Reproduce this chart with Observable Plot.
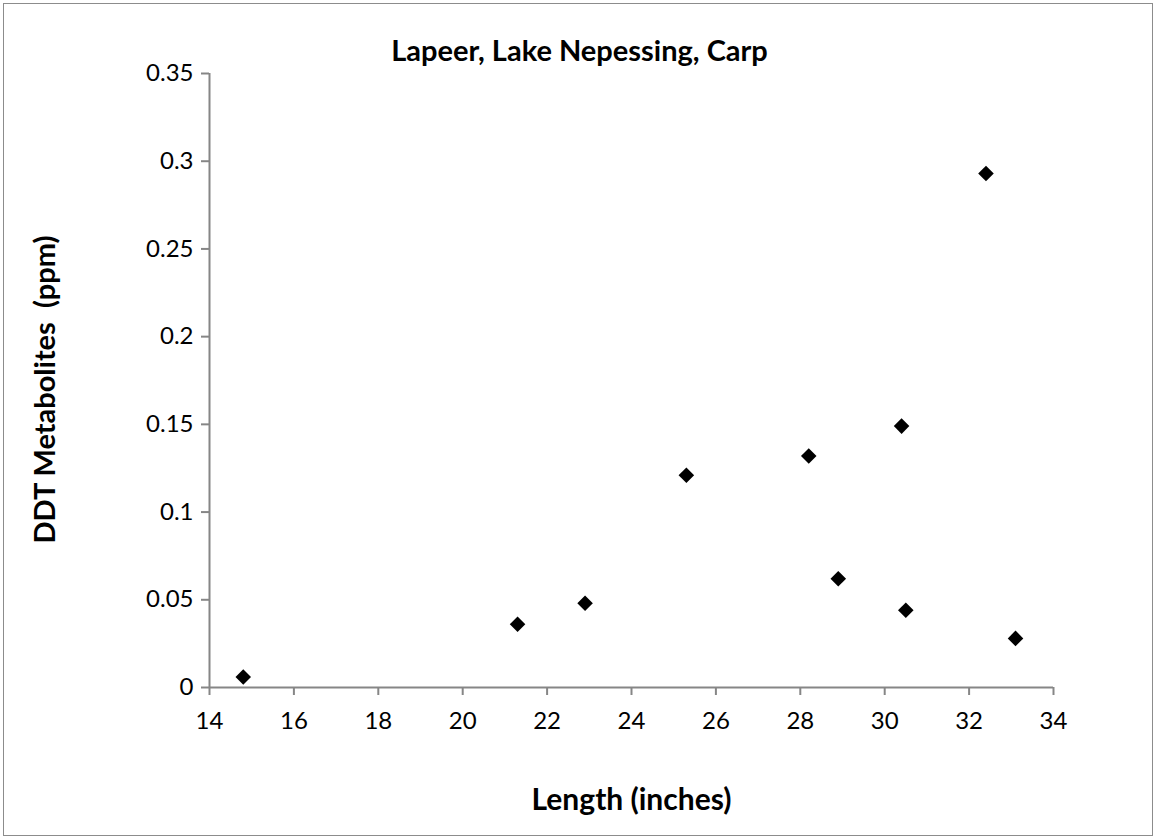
<!DOCTYPE html>
<html>
<head>
<meta charset="utf-8">
<script src="https://cdn.jsdelivr.net/npm/d3@7"></script>
<script src="https://cdn.jsdelivr.net/npm/@observablehq/plot@0.6"></script>
<style>
  html, body { margin: 0; padding: 0; background: #fff; }
  #wrap { position: relative; width: 1156px; height: 840px; }
  #border { position: absolute; left: 3px; top: 3px; width: 1150px; height: 833px; border: 1.5px solid #8c8c8c; box-sizing: border-box; pointer-events: none; }
  svg { display: block; }
</style>
</head>
<body>
<div id="wrap"><div id="border"></div></div>
<script>
const lengths = [14.8, 21.3, 22.9, 25.3, 28.2, 28.9, 30.4, 30.5, 32.4, 33.1];
const ddt = [0.006, 0.036, 0.048, 0.121, 0.132, 0.062, 0.149, 0.044, 0.293, 0.028];
const xTicks = [14, 16, 18, 20, 22, 24, 26, 28, 30, 32, 34];
const yTicks = [0, 0.05, 0.1, 0.15, 0.2, 0.25, 0.3, 0.35];
const titleText = "Lapeer, Lake Nepessing, Carp";
const xTitle = "Length (inches)";
const yTitle = "DDT Metabolites  (ppm)";

const data = lengths.map((l, i) => ({length: l, ddt: ddt[i]}));
const font = "Lato, 'Open Sans', sans-serif";
const axisColor = "#868686";

const chart = Plot.plot({
  width: 1156,
  height: 840,
  marginLeft: 209,
  marginRight: 103,
  marginTop: 73,
  marginBottom: 153,
  style: {fontFamily: font, fontSize: "24px", color: "#000", background: "transparent", overflow: "visible"},
  x: {domain: [14, 34], ticks: xTicks},
  y: {domain: [0, 0.35], ticks: yTicks},
  marks: [
    Plot.ruleY([0], {stroke: axisColor, strokeWidth: 2, x1: 14, x2: 34}),
    Plot.ruleX([14], {stroke: axisColor, strokeWidth: 2, y1: 0, y2: 0.35}),
    Plot.axisX({ticks: xTicks, tickSize: 8, tickPadding: 16, stroke: axisColor, strokeWidth: 2, fill: "#000", fontSize: 24, label: null, tickFormat: d => String(d)}),
    Plot.axisY({ticks: yTicks, tickSize: 8, tickPadding: 8, stroke: axisColor, strokeWidth: 2, fill: "#000", fontSize: 24, label: null, tickFormat: d => String(+d.toFixed(2))}),
    Plot.dot(data, {x: "length", y: "ddt", symbol: "diamond2", r: 7, fill: "#000", stroke: null}),
    Plot.text([titleText], {frameAnchor: "top", dx: -52, dy: -22, lineAnchor: "middle", fontWeight: "bold", fontSize: 29, fill: "#000"}),
    Plot.text([xTitle], {frameAnchor: "bottom", dy: 113, lineAnchor: "middle", fontWeight: "bold", fontSize: 30, fill: "#000"}),
    Plot.text([yTitle], {frameAnchor: "left", textAnchor: "middle", dx: -164, dy: 9, rotate: -90, lineAnchor: "middle", fontWeight: "bold", fontSize: 29, fill: "#000"})
  ]
});
document.getElementById("wrap").prepend(chart);
</script>
</body>
</html>
